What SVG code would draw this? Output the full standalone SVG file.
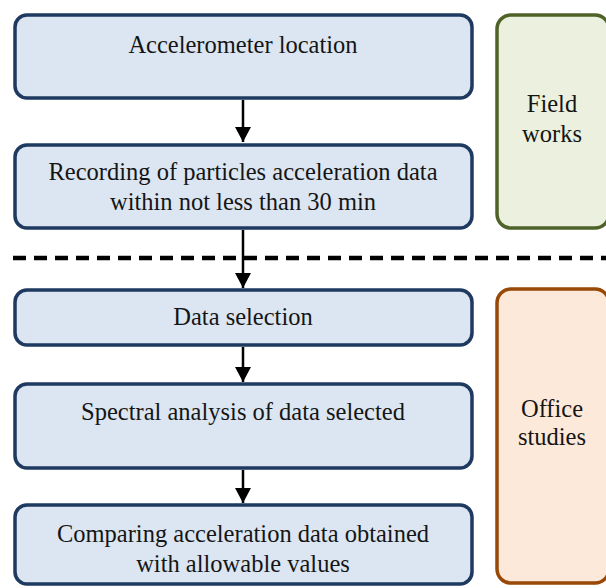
<svg xmlns="http://www.w3.org/2000/svg" width="606" height="588" viewBox="0 0 606 588">
<defs>
<style>
.step rect{fill:#DCE6F2;stroke:#1E3A60;stroke-width:3.5}
.field rect{fill:#EBF1DE;stroke:#4F6228;stroke-width:3.5}
.office rect{fill:#FDE9D9;stroke:#984807;stroke-width:3.5}
text{font-family:"Liberation Serif","Times New Roman",serif;font-size:24.5px;fill:#151515;text-anchor:middle}
.conn line{stroke:#000;stroke-width:2.5}
</style>
<marker id="ah" markerUnits="userSpaceOnUse" markerWidth="16" markerHeight="16" viewBox="0 0 16 16" refX="15" refY="8" orient="auto">
<path d="M0,0 L15,8 L0,16 Z" fill="#000"/>
</marker>
</defs>
<rect width="606" height="588" fill="#fff"/>
<g id="field-works" class="field">
<rect x="497" y="15" width="112" height="213" rx="14"/>
<text x="552" y="112">Field</text>
<text x="552" y="142">works</text>
</g>
<g id="office-studies" class="office">
<rect x="497" y="289" width="112" height="294" rx="14"/>
<text x="552" y="417">Office</text>
<text x="552" y="445">studies</text>
</g>
<g id="step1" class="step">
<rect x="15" y="15" width="457" height="83" rx="12"/>
<text x="243" y="53">Accelerometer location</text>
</g>
<g id="step2" class="step">
<rect x="15" y="145" width="457" height="83" rx="12"/>
<text x="243" y="180">Recording of particles acceleration data</text>
<text x="243" y="210">within not less than 30 min</text>
</g>
<g id="step3" class="step">
<rect x="15" y="290" width="457" height="55" rx="12"/>
<text x="243" y="325">Data selection</text>
</g>
<g id="step4" class="step">
<rect x="15" y="384" width="457" height="84" rx="12"/>
<text x="243" y="420">Spectral analysis of data selected</text>
</g>
<g id="step5" class="step">
<rect x="15" y="505" width="457" height="79" rx="12"/>
<text x="243" y="542">Comparing acceleration data obtained</text>
<text x="243" y="572">with allowable values</text>
</g>
<g id="divider">
<line x1="13" y1="258" x2="606" y2="258" stroke="#000" stroke-width="4.5" stroke-dasharray="13 8"/>
</g>
<g id="connectors" class="conn">
<line x1="243" y1="100" x2="243" y2="142" marker-end="url(#ah)"/>
<line x1="243" y1="230" x2="243" y2="288" marker-end="url(#ah)"/>
<line x1="243" y1="347" x2="243" y2="382" marker-end="url(#ah)"/>
<line x1="243" y1="470" x2="243" y2="503" marker-end="url(#ah)"/>
</g>
</svg>
